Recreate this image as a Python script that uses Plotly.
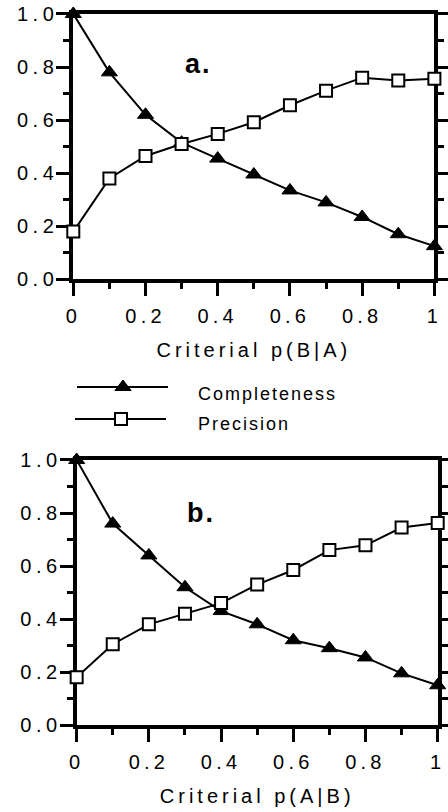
import plotly.graph_objects as go

# ---------------- data ----------------
criterial = [0.0, 0.1, 0.2, 0.3, 0.4, 0.5, 0.6, 0.7, 0.8, 0.9, 1.0]

completeness_a = [1.0, 0.78, 0.62, 0.515, 0.455, 0.395, 0.335, 0.29, 0.235, 0.17, 0.125]
precision_a = [0.18, 0.38, 0.465, 0.51, 0.548, 0.592, 0.656, 0.711, 0.76, 0.749, 0.756]

completeness_b = [1.0, 0.76, 0.64, 0.52, 0.43, 0.38, 0.32, 0.29, 0.255, 0.195, 0.15]
precision_b = [0.18, 0.305, 0.38, 0.42, 0.46, 0.53, 0.585, 0.66, 0.678, 0.745, 0.762]

x_tickvals = [0, 0.2, 0.4, 0.6, 0.8, 1.0]
x_ticklabels = ["0", "0.2", "0.4", "0.6", "0.8", "1"]
y_tickvals = [0, 0.2, 0.4, 0.6, 0.8, 1.0]
y_ticklabels = ["0.0", "0.2", "0.4", "0.6", "0.8", "1.0"]
minor_vals = [0.1, 0.3, 0.5, 0.7, 0.9]

series_names = ["Completeness", "Precision"]
panel_labels = ["a.", "b."]
axis_titles = ["Criterial p(B|A)", "Criterial p(A|B)"]

FONT = "Liberation Sans, Arial, sans-serif"


def spaced(t, px):
    return '<span style="letter-spacing:%spx">%s</span>' % (px, t)


tri = dict(symbol="triangle-up", size=14, color="black", line=dict(color="black", width=1))
sq = dict(symbol="square", size=12, color="white", line=dict(color="black", width=2))
line_style = dict(color="black", width=2)

fig = go.Figure()

for i, (comp, prec, xa, ya) in enumerate([
    (completeness_a, precision_a, "x", "y"),
    (completeness_b, precision_b, "x2", "y2"),
]):
    fig.add_trace(go.Scatter(x=criterial, y=comp, mode="lines+markers", name=series_names[0],
                             marker=tri, line=line_style, xaxis=xa, yaxis=ya, cliponaxis=False))
    fig.add_trace(go.Scatter(x=criterial, y=prec, mode="lines+markers", name=series_names[1],
                             marker=sq, line=line_style, xaxis=xa, yaxis=ya, cliponaxis=False))

# ---- custom legend (drawn on an invisible overlay axis in pixel-like units) ----
leg_rows = [
    dict(x0=77, x1=168, xm=123, y=387, ty=394, marker=tri),
    dict(x0=75, x1=166, xm=121, y=419, ty=424, marker=sq),
]
for name, r in zip(series_names, leg_rows):
    fig.add_trace(go.Scatter(x=[r["x0"], r["x1"]], y=[r["y"], r["y"]], mode="lines",
                             line=line_style, xaxis="x3", yaxis="y3", hoverinfo="skip"))
    fig.add_trace(go.Scatter(x=[r["xm"]], y=[r["y"]], mode="markers", marker=r["marker"],
                             xaxis="x3", yaxis="y3", cliponaxis=False, hoverinfo="skip"))

annotations = []
for name, r in zip(series_names, leg_rows):
    annotations.append(dict(x=196, y=r["ty"], xref="x3", yref="y3", text=spaced(name, 2.0),
                            showarrow=False, xanchor="left", yanchor="middle",
                            font=dict(family=FONT, size=18, color="black")))

annotations.append(dict(x=0.347, y=0.812, xref="x", yref="y", text=spaced("<b>" + panel_labels[0] + "</b>", 2),
                        showarrow=False, font=dict(family=FONT, size=27, color="black")))
annotations.append(dict(x=0.344, y=0.801, xref="x2", yref="y2", text=spaced("<b>" + panel_labels[1] + "</b>", 2),
                        showarrow=False, font=dict(family=FONT, size=27, color="black")))


def xaxis(domain, anchor, title):
    return dict(domain=domain, anchor=anchor, range=[0, 1], tickmode="array",
                tickvals=x_tickvals, ticktext=[spaced(t, 4.2) for t in x_ticklabels],
                ticks="outside", ticklen=13, tickwidth=2.5, tickcolor="black",
                showline=True, linewidth=4, linecolor="black", mirror=True,
                showgrid=False, zeroline=False, layer="below traces", automargin=False,
                ticklabelstandoff=3,
                tickfont=dict(family=FONT, size=20, color="black"),
                minor=dict(tickmode="array", tickvals=minor_vals, ticks="outside", ticklen=6,
                           tickwidth=2.5, tickcolor="black", showgrid=False),
                title=dict(text=spaced(title, 4.0), font=dict(family=FONT, size=20, color="black"),
                           standoff=18))


def yaxis(domain, anchor):
    return dict(domain=domain, anchor=anchor, range=[0, 1], tickmode="array",
                tickvals=y_tickvals, ticktext=[spaced(t, 4.5) for t in y_ticklabels],
                ticks="outside", ticklen=13, tickwidth=2.5, tickcolor="black",
                showline=True, linewidth=4, linecolor="black", mirror="allticks",
                showgrid=False, zeroline=False, layer="below traces", automargin=False,
                ticklabelstandoff=-6,
                tickfont=dict(family=FONT, size=20, color="black"),
                minor=dict(tickmode="array", tickvals=minor_vals, ticks="outside", ticklen=6,
                           tickwidth=2.5, tickcolor="black", showgrid=False))


fig.update_layout(
    width=448, height=812,
    margin=dict(l=0, r=0, t=0, b=0, autoexpand=False),
    paper_bgcolor="white", plot_bgcolor="rgba(0,0,0,0)",
    showlegend=False,
    font=dict(family=FONT, color="black"),
    xaxis=xaxis([0.1636, 0.9696], "y", axis_titles[0]),
    yaxis=yaxis([0.6560, 0.9828], "x"),
    xaxis2=xaxis([0.1711, 0.9770], "y2", axis_titles[1]),
    yaxis2=yaxis([0.1071, 0.4335], "x2"),
    xaxis3=dict(domain=[0, 1], anchor="y3", range=[0, 448], visible=False, fixedrange=True, automargin=False),
    yaxis3=dict(domain=[0, 1], anchor="x3", range=[812, 0], visible=False, fixedrange=True, automargin=False),
    annotations=annotations,
)

# remove the browser's default 8px body margin so the 448x812 figure fills the window exactly
fig.write_html("out.html", config={"displayModeBar": False},
               post_script="document.body.style.margin='0';document.body.style.overflow='hidden';")
